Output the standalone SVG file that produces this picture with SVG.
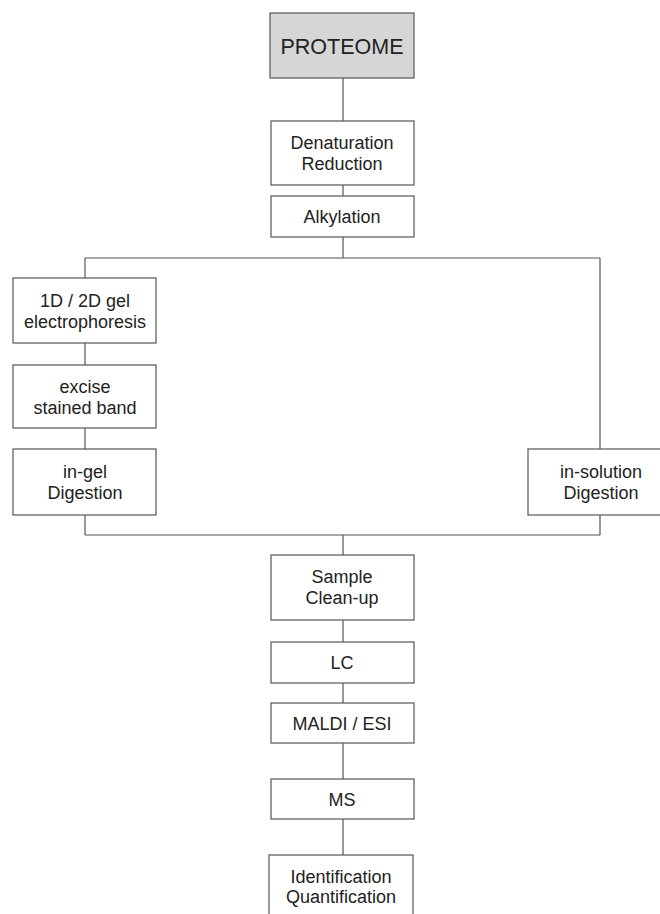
<svg xmlns="http://www.w3.org/2000/svg" width="660" height="914" viewBox="0 0 660 914">
<style>
.box{fill:#fff;stroke:#555;stroke-width:1.2}
.grey{fill:#d6d6d6}
.ln{stroke:#555;stroke-width:1.2;fill:none}
text{font-family:"Liberation Sans",Arial,sans-serif;font-size:18px;fill:#222;text-anchor:middle}
.big{font-size:21.5px}
</style>
<rect width="660" height="914" fill="#fff"/>
<g id="connectors">
<path class="ln" d="M343 78V121M343 185V196M343 237V258M85 258H600M85 258V278M85 343V365M85 428V449M85 515V535M600 258V449M600 515V535M85 535H600M343 535V555M343 620V642M343 683V703M343 743V779M343 819V855"/>
</g>
<g id="proteome"><rect class="box grey" x="270" y="13" width="144" height="65"/><text class="big" x="342" y="54">PROTEOME</text></g>
<g id="denaturation"><rect class="box" x="271" y="121" width="143" height="64"/><text x="342" y="149">Denaturation</text><text x="342" y="170">Reduction</text></g>
<g id="alkylation"><rect class="box" x="271" y="196" width="143" height="41"/><text x="342" y="223">Alkylation</text></g>
<g id="gel"><rect class="box" x="13" y="278" width="143" height="65"/><text x="85" y="307">1D / 2D gel</text><text x="85" y="328">electrophoresis</text></g>
<g id="excise"><rect class="box" x="13" y="365" width="143" height="63"/><text x="85" y="393">excise</text><text x="85" y="414">stained band</text></g>
<g id="ingel"><rect class="box" x="13" y="449" width="143" height="66"/><text x="85" y="478">in-gel</text><text x="85" y="499">Digestion</text></g>
<g id="insolution"><rect class="box" x="528" y="449" width="144" height="66"/><text x="601" y="478">in-solution</text><text x="601" y="499">Digestion</text></g>
<g id="cleanup"><rect class="box" x="271" y="555" width="143" height="65"/><text x="342" y="583">Sample</text><text x="342" y="604">Clean-up</text></g>
<g id="lc"><rect class="box" x="271" y="642" width="143" height="41"/><text x="342" y="669">LC</text></g>
<g id="maldi"><rect class="box" x="271" y="703" width="143" height="40"/><text x="342" y="730">MALDI / ESI</text></g>
<g id="ms"><rect class="box" x="271" y="779" width="143" height="40"/><text x="342" y="806">MS</text></g>
<g id="identification"><rect class="box" x="269" y="855" width="144" height="80"/><text x="341" y="883">Identification</text><text x="341" y="903">Quantification</text></g>
</svg>
